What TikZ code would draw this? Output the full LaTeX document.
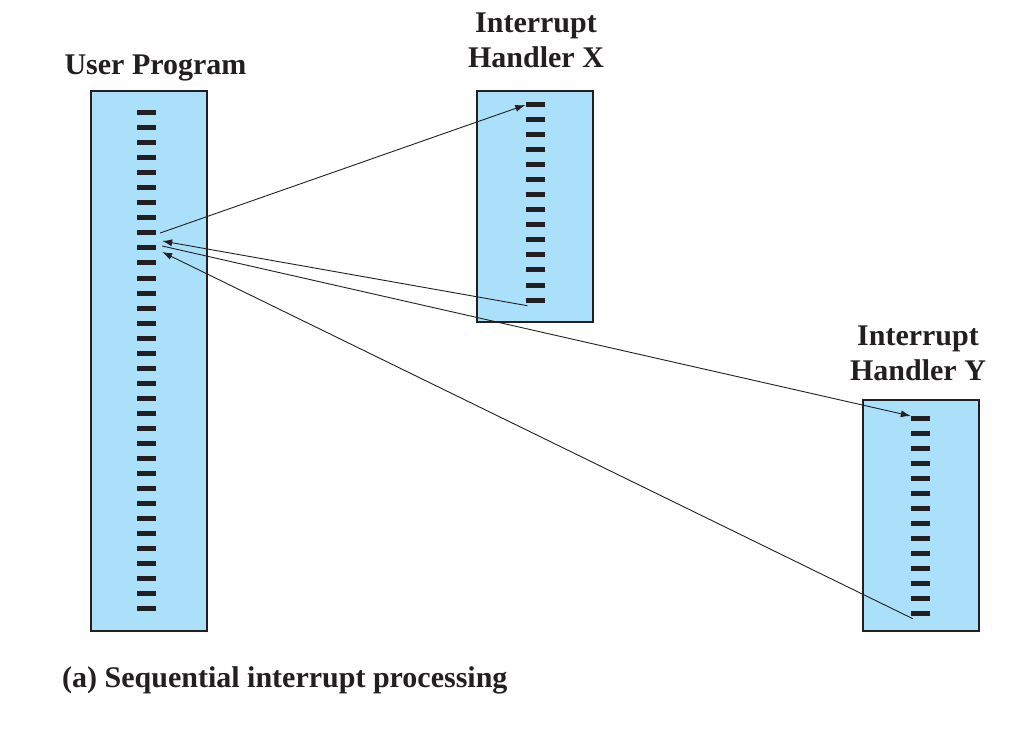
\documentclass[tikz,border=0pt]{standalone}
\usepackage{fontspec}
\setmainfont{Liberation Serif}
\usetikzlibrary{calc,arrows.meta,positioning}
\definecolor{procBlue}{RGB}{171,224,250}
\definecolor{procInk}{RGB}{35,31,32}

\begin{document}
\begin{tikzpicture}[x=1pt,y=-1pt,
  procbox/.style={draw=procInk, line width=2pt, fill=procBlue, inner sep=0pt, minimum width=116pt},
  tick/.style={fill=procInk, inner sep=0pt, minimum width=19pt, minimum height=5pt},
  flow/.style={procInk, line width=0.9pt, -{Latex[length=10pt,width=7pt]}},
  lbl/.style={text=procInk, font=\fontsize{30}{35}\selectfont\bfseries, inner sep=0pt, align=center}]
\useasboundingbox (0,0) rectangle (1014,735);

\node[procbox, minimum height=540pt] (user) at (149,361) {};
\node[procbox, minimum height=231pt] (hx) at (535,206.5) {};
\node[procbox, minimum height=231pt] (hy) at (921,515.5) {};

\foreach \i in {1,...,34}
  \node[tick] (u\i) at (146.5,{113+15*(\i-1)}) {};
\foreach \i in {1,...,14} {
  \node[tick] (x\i) at (535,{105+15*(\i-1)}) {};
  \node[tick] (y\i) at (920.5,{418+15*(\i-1)}) {};
}

\node[lbl, anchor=base] (ulab) at (155.5,75) {User Program};
\node[lbl, anchor=base] (xlab) at (536,68) {Interrupt\\Handler X};
\node[lbl, anchor=base] (ylab) at (918,380) {Interrupt\\Handler Y};
\node[lbl, anchor=base west] (cap) at (62,687) {(a) Sequential interrupt processing};

% out to X and back
\coordinate (xout) at ($(u9.east)+(4,0)$);
\coordinate (xback) at ($(u9.east)+(6,8)$);
\draw[flow] (xout) -- (x1.west);
\draw[flow] ($(x14.south west)+(2,3)$) -- (xback);
% out to Y and back
\coordinate (yout) at ($(u9.east)+(6,13)$);
\coordinate (yback) at ($(u10.east)+(6,4)$);
\draw[flow] (yout) -- ($(y1.west)+(0,-2)$);
\draw[flow] ($(y14.south west)+(2,3)$) -- (yback);
\end{tikzpicture}
\end{document}
